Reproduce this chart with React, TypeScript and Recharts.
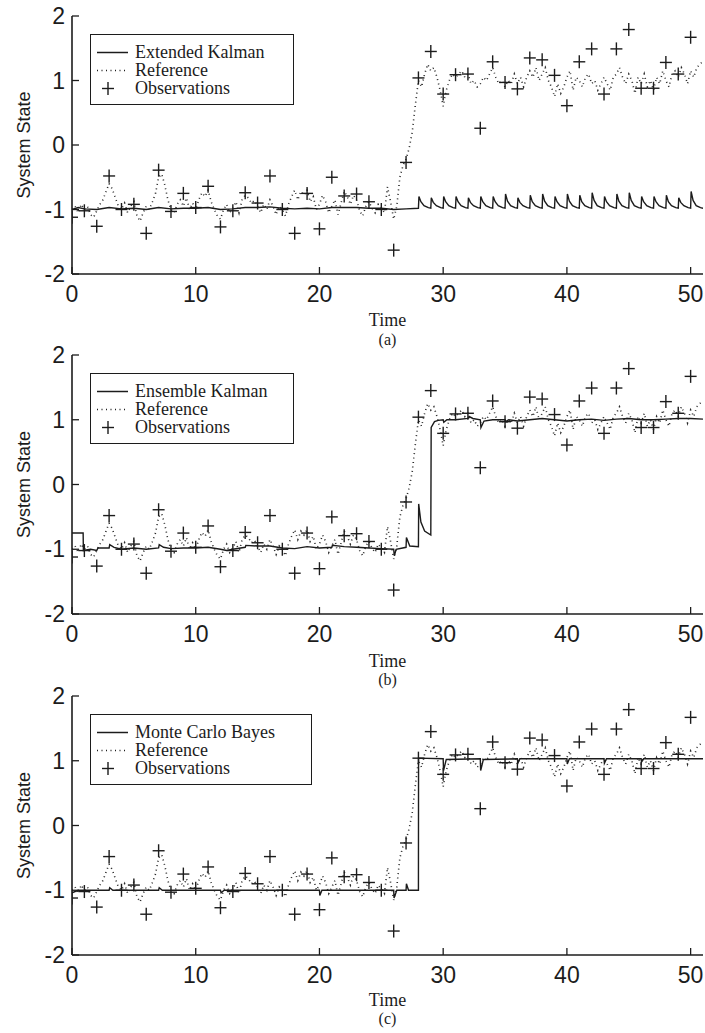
import React from 'react';
import { ComposedChart, Line, Scatter, XAxis, YAxis, Legend } from 'recharts';

const INK = '#1c1c1c';
const SANS = '"Liberation Sans", Arial, sans-serif';
const SERIF = '"Liberation Serif", "Times New Roman", serif';
const TICK_LEN = 7;

const xTicks = [0, 10, 20, 30, 40, 50];
const yTicks = [-2, -1, 0, 1, 2];

// observations at t = 0, 1, ..., 50
const obsValues = [
  -1.12, -1.02, -1.26, -0.48, -1.0, -0.92, -1.37, -0.39, -1.03, -0.75,
  -0.97, -0.64, -1.27, -1.02, -0.74, -0.9, -0.48, -1.0, -1.37, -0.75,
  -1.3, -0.5, -0.79, -0.76, -0.88, -1.0, -1.63, -0.27, 1.04, 1.45,
  0.79, 1.09, 1.1, 0.26, 1.29, 0.97, 0.87, 1.35, 1.32, 1.08,
  0.61, 1.29, 1.49, 0.79, 1.49, 1.79, 0.88, 0.88, 1.28, 1.1,
  1.67,
];

// reference trajectory, sampled every 0.25 time units (one row per unit)
const REF_DT = 0.25;
const refValues = [
  -1.0, -0.95, -1.05, -0.92,
  -1.0, -0.95, -1.08, -1.12,
  -1.02, -0.92, -0.85, -0.72,
  -0.6, -0.68, -0.82, -0.95,
  -1.0, -0.9, -1.05, -0.95,
  -0.88, -1.1, -1.18, -1.05,
  -0.95, -1.0, -0.88, -0.75,
  -0.5, -0.45, -0.62, -0.85,
  -1.0, -1.05, -0.92, -0.85,
  -0.95, -0.82, -1.0, -0.9,
  -1.0, -0.85, -0.74, -0.8,
  -0.7, -0.88, -1.0, -1.1,
  -1.15, -1.0, -0.92, -1.05,
  -0.98, -0.88, -1.05, -0.85,
  -0.78, -0.82, -0.9, -0.86,
  -0.95, -1.05, -0.92, -1.0,
  -0.85, -0.95, -1.08, -0.95,
  -1.0, -1.1, -0.92, -0.8,
  -0.7, -0.85, -0.72, -0.78,
  -0.7, -0.88, -0.8, -1.0,
  -0.92, -0.78, -0.88, -1.05,
  -0.95, -0.85, -1.08, -0.9,
  -0.72, -0.8, -0.92, -0.78,
  -0.85, -1.02, -1.1, -0.95,
  -0.88, -0.98, -1.05, -0.92,
  -0.98, -1.05, -0.65, -0.88,
  -1.15, -0.95, -0.5, -0.32,
  -0.22, -0.05, 0.2, 0.62,
  1.0, 0.9, 1.1, 1.25,
  1.15, 1.2, 1.05, 0.85,
  0.6, 0.85, 1.0, 1.1,
  1.05, 1.1, 1.15, 1.05,
  1.1, 0.95, 1.0, 0.9,
  0.95, 1.05, 1.0, 1.1,
  1.2, 1.05, 0.95, 1.0,
  0.9, 1.0, 0.95, 1.1,
  0.95, 1.05, 0.9, 1.05,
  1.15, 1.05, 1.2, 1.0,
  1.1, 1.2, 1.0, 0.9,
  0.75, 0.95, 0.8, 0.9,
  1.05, 1.15, 0.85, 1.05,
  1.0, 0.9, 1.05, 1.1,
  0.95, 1.0, 0.85, 0.95,
  1.05, 0.95, 0.85, 1.05,
  1.1, 1.2, 1.05, 0.95,
  1.1, 1.0, 0.8, 1.05,
  0.95, 1.1, 0.9, 1.0,
  0.85, 1.05, 0.95, 1.15,
  1.0, 0.9, 1.1, 1.15,
  1.05, 1.2, 1.1, 0.95,
  1.15, 1.05, 1.2, 1.25,
  1.3,
];

// filter estimates as [time, state]
const ekfPoints: [number, number][] = [
  [0, -1.0], [0.5, -0.97], [1, -0.99], [2, -1.0], [3, -0.97], [4, -0.99],
  [5, -0.98], [6, -1.0], [7, -0.97], [8, -0.99], [9, -0.98], [10, -0.98],
  [11, -0.97], [12, -1.0], [13, -0.99], [14, -0.97], [15, -0.97], [16, -0.96],
  [17, -0.98], [18, -0.99], [19, -0.98], [20, -0.99], [21, -0.97], [22, -0.97],
  [23, -0.97], [24, -0.98], [25, -0.98], [26, -1.0], [27, -0.99],
  [28, -0.98], [28.04, -0.8], [28.2, -0.88], [28.45, -0.94], [28.8, -0.97],
  [29, -0.98], [29.04, -0.82], [29.2, -0.89], [29.45, -0.94], [29.8, -0.97],
  [30, -0.98], [30.04, -0.8], [30.2, -0.88], [30.45, -0.94], [30.8, -0.97],
  [31, -0.98], [31.04, -0.8], [31.2, -0.88], [31.45, -0.94], [31.8, -0.97],
  [32, -0.98], [32.04, -0.82], [32.2, -0.89], [32.45, -0.94], [32.8, -0.97],
  [33, -0.98], [33.04, -0.8], [33.2, -0.88], [33.45, -0.94], [33.8, -0.97],
  [34, -0.98], [34.04, -0.8], [34.2, -0.88], [34.45, -0.94], [34.8, -0.97],
  [35, -0.98], [35.04, -0.76], [35.2, -0.87], [35.45, -0.94], [35.8, -0.97],
  [36, -0.98], [36.04, -0.82], [36.2, -0.89], [36.45, -0.94], [36.8, -0.97],
  [37, -0.98], [37.04, -0.78], [37.2, -0.88], [37.45, -0.94], [37.8, -0.97],
  [38, -0.98], [38.04, -0.76], [38.2, -0.87], [38.45, -0.94], [38.8, -0.97],
  [39, -0.98], [39.04, -0.8], [39.2, -0.88], [39.45, -0.94], [39.8, -0.97],
  [40, -0.98], [40.04, -0.76], [40.2, -0.87], [40.45, -0.94], [40.8, -0.97],
  [41, -0.98], [41.04, -0.78], [41.2, -0.88], [41.45, -0.94], [41.8, -0.97],
  [42, -0.98], [42.04, -0.74], [42.2, -0.86], [42.45, -0.94], [42.8, -0.97],
  [43, -0.98], [43.04, -0.8], [43.2, -0.88], [43.45, -0.94], [43.8, -0.97],
  [44, -0.98], [44.04, -0.76], [44.2, -0.87], [44.45, -0.94], [44.8, -0.97],
  [45, -0.98], [45.04, -0.74], [45.2, -0.86], [45.45, -0.94], [45.8, -0.97],
  [46, -0.98], [46.04, -0.8], [46.2, -0.88], [46.45, -0.94], [46.8, -0.97],
  [47, -0.98], [47.04, -0.8], [47.2, -0.88], [47.45, -0.94], [47.8, -0.97],
  [48, -0.98], [48.04, -0.78], [48.2, -0.88], [48.45, -0.94], [48.8, -0.97],
  [49, -0.98], [49.04, -0.82], [49.2, -0.89], [49.45, -0.94], [49.8, -0.97],
  [50, -0.98], [50.04, -0.72], [50.2, -0.86], [50.45, -0.94], [50.8, -0.97],
  [51, -0.98],
];

const enkfPoints: [number, number][] = [
  [0, -0.75], [0.9, -0.75], [0.92, -1.02], [1.5, -1.0], [2, -1.02], [2.1, -0.98],
  [3, -0.98], [3.05, -0.93], [3.4, -0.97], [4, -1.0], [5, -0.98], [6, -1.0],
  [7, -0.98], [7.05, -0.93], [7.4, -0.97], [8, -0.99], [9, -0.98], [10, -0.98],
  [11, -0.97], [12, -1.0], [12.5, -1.02], [13, -1.0], [14, -0.97], [14.05, -0.94],
  [15, -0.95], [16, -0.95], [17, -0.98], [18, -0.99], [19, -0.96], [20, -0.98],
  [21, -0.97], [21.05, -0.94], [22, -0.96], [23, -0.97], [24, -0.98], [25, -0.99],
  [26, -1.0], [26.05, -1.1], [26.2, -1.0], [27, -0.97], [27.03, -0.82], [27.3, -0.95],
  [28, -0.96], [28.02, -0.3], [28.2, -0.58], [28.5, -0.72], [29, -0.78], [29.03, 0.88],
  [29.3, 0.97], [29.6, 0.99], [30, 1.0], [30.05, 0.96], [30.3, 1.0], [31, 1.0],
  [32, 1.02], [32.1, 1.05], [32.4, 1.02], [33, 1.0], [33.05, 0.88], [33.3, 0.98],
  [34, 1.0], [35, 1.0], [35.05, 0.97], [35.3, 1.0], [36, 0.98], [37, 1.0],
  [38, 1.02], [39, 1.0], [40, 0.98], [41, 1.0], [42, 1.01], [43, 0.99],
  [44, 1.01], [45, 1.02], [46, 1.0], [47, 1.0], [48, 1.01], [49, 1.02],
  [50, 1.02], [51, 1.01],
];

const mcbPoints: [number, number][] = [
  [0, -1.04], [0.5, -1.0], [3, -1.0], [3.05, -0.96], [3.3, -1.0], [7, -1.0],
  [7.05, -0.96], [7.3, -1.0], [12, -1.0], [12.05, -1.04], [12.3, -1.0], [20, -1.0],
  [20.03, -1.08], [20.2, -1.0], [26, -1.0], [26.03, -1.12], [26.25, -1.0], [27, -1.0],
  [27.03, -0.9], [27.2, -1.0], [28, -1.0], [28.01, 1.04], [30, 1.03], [30.03, 0.85],
  [30.25, 1.02], [33, 1.03], [33.03, 0.85], [33.25, 1.02], [36, 1.03], [36.03, 0.96],
  [36.2, 1.03], [40, 1.03], [40.03, 0.95], [40.2, 1.03], [43, 1.03], [43.03, 0.96],
  [43.2, 1.03], [46, 1.03], [46.03, 0.98], [46.2, 1.03], [51, 1.03],
];

const toRows = (pts: [number, number][]) => pts.map(([t, v]) => ({ t, v }));
const refData = refValues.map((v, i) => ({ t: i * REF_DT, v }));
const obsData = obsValues.map((v, i) => ({ t: i, v }));

const Plus = (props: any) => {
  const { cx, cy } = props;
  if (cx == null || cy == null) return null;
  return (
    <g stroke={INK} strokeWidth={1.4}>
      <line x1={cx - 6} y1={cy} x2={cx + 6} y2={cy} />
      <line x1={cx} y1={cy - 6.5} x2={cx} y2={cy + 6.5} />
    </g>
  );
};

const BottomTick = (props: any) => {
  const { x, y, payload } = props;
  return (
    <g>
      <line x1={x} y1={y} x2={x} y2={y - TICK_LEN} stroke={INK} strokeWidth={1.3} />
      <text x={x} y={y + 28} textAnchor="middle" fontSize={23} fontFamily={SANS} fill={INK}>
        {payload.value}
      </text>
    </g>
  );
};

const TopTick = (props: any) => {
  const { x, y } = props;
  return <line x1={x} y1={y} x2={x} y2={y + TICK_LEN} stroke={INK} strokeWidth={1.3} />;
};

const LeftTick = (props: any) => {
  const { x, y, payload } = props;
  return (
    <g>
      <line x1={x} y1={y} x2={x + TICK_LEN} y2={y} stroke={INK} strokeWidth={1.3} />
      <text x={x - 7} y={y + 8} textAnchor="end" fontSize={23} fontFamily={SANS} fill={INK}>
        {payload.value}
      </text>
    </g>
  );
};

const RightTick = (props: any) => {
  const { x, y } = props;
  return <line x1={x} y1={y} x2={x - TICK_LEN} y2={y} stroke={INK} strokeWidth={1.3} />;
};

const TimeLabel = (props: any) => {
  const { viewBox, letter, dy1, dy2 } = props;
  const cx = viewBox.x + viewBox.width / 2;
  return (
    <g fontFamily={SERIF} fill={INK} textAnchor="middle">
      <text x={cx} y={viewBox.y + dy1} fontSize={18} dominantBaseline="central">Time</text>
      <text x={cx} y={viewBox.y + dy2} fontSize={16} dominantBaseline="central">{letter}</text>
    </g>
  );
};

const StateLabel = (props: any) => {
  const { viewBox } = props;
  const cx = viewBox.x + 24;
  const cy = viewBox.y + viewBox.height / 2;
  return (
    <text
      x={cx}
      y={cy}
      transform={`rotate(-90 ${cx} ${cy})`}
      textAnchor="middle"
      dominantBaseline="central"
      fontSize={18}
      fontFamily={SANS}
      fill={INK}
    >
      System State
    </text>
  );
};

const LegendBox = ({ name, width }: { name: string; width: number }) => {
  const row: React.CSSProperties = { display: 'flex', alignItems: 'center', height: 18, lineHeight: '18px' };
  return (
    <div
      style={{
        width,
        height: 71,
        boxSizing: 'border-box',
        border: `1.6px solid ${INK}`,
        background: '#fff',
        paddingTop: 8,
        fontFamily: SERIF,
        fontSize: 18,
        color: INK,
        whiteSpace: 'nowrap',
      }}
    >
      <div style={row}>
        <svg width={44} height={17}>
          <line x1={6} y1={8.5} x2={37} y2={8.5} stroke={INK} strokeWidth={1.5} />
        </svg>
        <span>{name}</span>
      </div>
      <div style={row}>
        <svg width={44} height={17}>
          <line x1={6} y1={8.5} x2={37} y2={8.5} stroke={INK} strokeWidth={1.5} strokeDasharray="1 3.5" />
        </svg>
        <span>Reference</span>
      </div>
      <div style={row}>
        <svg width={44} height={17}>
          <Plus cx={17} cy={8.5} />
        </svg>
        <span>Observations</span>
      </div>
    </div>
  );
};

interface PanelProps {
  top: number;
  height: number;
  marginTop: number;
  plotH: number;
  name: string;
  legendW: number;
  estimate: { t: number; v: number }[];
  letter: string;
  dy1: number;
  dy2: number;
}

const Panel = ({ top, height, marginTop, plotH, name, legendW, estimate, letter, dy1, dy2 }: PanelProps) => {
  const axisLine = { stroke: INK, strokeWidth: 1.6 };
  return (
    <div style={{ position: 'absolute', left: 0, top, width: 705, height }}>
      <ComposedChart width={705} height={height} margin={{ top: marginTop, right: 2, bottom: 0, left: 0 }}>
        <XAxis
          type="number"
          dataKey="t"
          domain={[0, 51]}
          ticks={xTicks}
          interval={0}
          allowDataOverflow
          height={height - marginTop - plotH}
          tickSize={0}
          tickMargin={0}
          tickLine={false}
          axisLine={axisLine}
          tick={BottomTick}
          label={<TimeLabel letter={letter} dy1={dy1} dy2={dy2} />}
        />
        <XAxis
          xAxisId="top"
          orientation="top"
          type="number"
          domain={[0, 51]}
          ticks={xTicks}
          interval={0}
          height={0}
          tickSize={0}
          tickMargin={0}
          tickLine={false}
          axisLine={axisLine}
          tick={TopTick}
        />
        <YAxis
          type="number"
          domain={[-2, 2]}
          ticks={yTicks}
          interval={0}
          allowDataOverflow
          width={72}
          tickSize={0}
          tickMargin={0}
          tickLine={false}
          axisLine={axisLine}
          tick={LeftTick}
          label={<StateLabel />}
        />
        <YAxis
          yAxisId="right"
          orientation="right"
          type="number"
          domain={[-2, 2]}
          ticks={yTicks}
          interval={0}
          width={0}
          tickSize={0}
          tickMargin={0}
          tickLine={false}
          axisLine={axisLine}
          tick={RightTick}
        />
        <Line
          data={refData}
          dataKey="v"
          type="linear"
          stroke="#2a2a2a"
          strokeWidth={1.6}
          strokeDasharray="1 3.5"
          dot={false}
          isAnimationActive={false}
        />
        <Line
          data={estimate}
          dataKey="v"
          type="linear"
          stroke={INK}
          strokeWidth={1.4}
          dot={false}
          isAnimationActive={false}
        />
        <Scatter data={obsData} dataKey="v" shape={Plus} isAnimationActive={false} />
        <Legend
          layout="horizontal"
          verticalAlign="middle"
          align="center"
          wrapperStyle={{ left: 90, top: marginTop + 18, width: 'auto' }}
          content={() => <LegendBox name={name} width={legendW} />}
        />
      </ComposedChart>
    </div>
  );
};

export default function App() {
  return (
    <div style={{ position: 'absolute', left: 0, top: 0, width: 705, height: 1033, background: '#fff' }}>
      <Panel top={0} height={360} marginTop={16} plotH={258} name="Extended Kalman" legendW={204}
        estimate={toRows(ekfPoints)} letter="(a)" dy1={46} dy2={65} />
      <Panel top={340} height={360} marginTop={15} plotH={259} name="Ensemble Kalman" legendW={204}
        estimate={toRows(enkfPoints)} letter="(b)" dy1={47} dy2={65} />
      <Panel top={680} height={353} marginTop={16} plotH={259} name="Monte Carlo Bayes" legendW={222}
        estimate={toRows(mcbPoints)} letter="(c)" dy1={45} dy2={63} />
    </div>
  );
}
